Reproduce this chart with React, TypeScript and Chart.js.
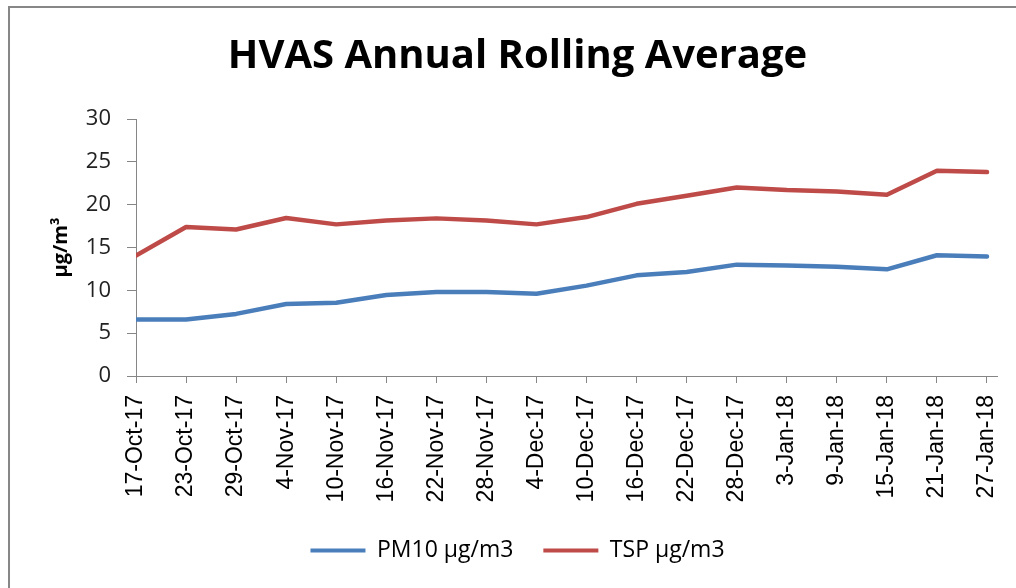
import React, { useEffect, useRef } from "react";
import { Chart, registerables } from "chart.js";

Chart.register(...registerables);

const dateLabels = [
  "17-Oct-17", "23-Oct-17", "29-Oct-17", "4-Nov-17", "10-Nov-17", "16-Nov-17",
  "22-Nov-17", "28-Nov-17", "4-Dec-17", "10-Dec-17", "16-Dec-17", "22-Dec-17",
  "28-Dec-17", "3-Jan-18", "9-Jan-18", "15-Jan-18", "21-Jan-18", "27-Jan-18",
];

const pm10Values = [
  6.6, 6.6, 7.25, 8.4, 8.55, 9.45, 9.8, 9.8, 9.6, 10.55, 11.75, 12.15,
  13.0, 12.9, 12.75, 12.45, 14.1, 13.95,
];

const tspValues = [
  14.05, 17.4, 17.1, 18.45, 17.7, 18.15, 18.4, 18.15, 17.7, 18.55, 20.1, 21.05,
  22.0, 21.7, 21.55, 21.15, 23.95, 23.8,
];

const yTicks = [0, 5, 10, 15, 20, 25, 30];

const borderPlugin = {
  id: "outerBorder",
  beforeDraw(chart: any) {
    const ctx = chart.ctx;
    ctx.save();
    ctx.fillStyle = "#ffffff";
    ctx.fillRect(0, 0, chart.width, chart.height);
    ctx.strokeStyle = "#878787";
    ctx.lineWidth = 2;
    ctx.strokeRect(9, 7, 3000, 3000);
    ctx.restore();
  },
};

export default function App() {
  const ref = useRef<HTMLCanvasElement | null>(null);

  useEffect(() => {
    if (!ref.current) return;
    const chart = new Chart(ref.current, {
      type: "line",
      data: {
        datasets: [
          {
            label: "PM10 µg/m3",
            data: pm10Values.map((v, i) => ({ x: i, y: v })),
            borderColor: "#4A7EBB",
            backgroundColor: "#4A7EBB",
            borderWidth: 4.5,
            pointRadius: 0,
            tension: 0,
            borderJoinStyle: "round",
            borderCapStyle: "round",
          },
          {
            label: "TSP µg/m3",
            data: tspValues.map((v, i) => ({ x: i, y: v })),
            borderColor: "#BE4B48",
            backgroundColor: "#BE4B48",
            borderWidth: 4.5,
            pointRadius: 0,
            tension: 0,
            borderJoinStyle: "round",
            borderCapStyle: "round",
          },
        ],
      },
      options: {
        responsive: false,
        animation: false,
        layout: { padding: { left: 38, right: 19, top: 0, bottom: 16 } },
        plugins: {
          tooltip: { enabled: false },
          title: {
            display: true,
            text: "HVAS Annual Rolling Average",
            color: "#000000",
            font: { family: "Open Sans", size: 40, weight: "bold" },
            padding: { top: 33, bottom: 38 },
          },
          legend: {
            position: "bottom",
            labels: {
              boxWidth: 55,
              boxHeight: 4,
              padding: 30,
              color: "#000000",
              font: { family: "Open Sans", size: 23 },
              generateLabels(chart: any) {
                const items = Chart.defaults.plugins.legend.labels.generateLabels(chart);
                return items.map((it: any) => ({
                  ...it,
                  fillStyle: it.strokeStyle,
                  lineWidth: 0,
                }));
              },
            },
          },
        },
        scales: {
          x: {
            type: "linear",
            min: 0,
            max: 17.2,
            offset: false,
            grid: {
              display: true,
              drawOnChartArea: false,
              drawTicks: true,
              tickLength: 7,
              color: "#868686",
            },
            border: { display: true, color: "#868686", width: 1 },
            ticks: {
              stepSize: 1,
              autoSkip: false,
              includeBounds: false,
              minRotation: 90,
              maxRotation: 90,
              padding: 12,
              color: "#000000",
              font: { family: "Liberation Sans", size: 23 },
              callback: (value: any) => {
                const i = Math.round(Number(value));
                return Number.isInteger(Number(value)) ? dateLabels[i] ?? "" : "";
              },
            },
            afterFit(scale: any) {
              scale.height = 133;
              scale.paddingLeft = 0;
              scale.paddingRight = 0;
            },
          },
          y: {
            min: 0,
            max: 30,
            afterBuildTicks(scale: any) {
              scale.ticks = yTicks.map((v) => ({ value: v }));
            },
            grid: {
              display: true,
              drawOnChartArea: false,
              drawTicks: true,
              tickLength: 9,
              color: "#868686",
            },
            border: { display: true, color: "#868686", width: 1 },
            ticks: {
              padding: 16,
              color: "#222222",
              font: { family: "Open Sans", size: 22 },
            },
            title: {
              display: true,
              text: "µg/m³",
              color: "#000000",
              font: { family: "Open Sans", size: 20, weight: "bold" },
              padding: { top: 11, bottom: 0 },
            },
            afterFit(scale: any) {
              scale.width = 98;
            },
          },
        },
      },
      plugins: [borderPlugin],
    } as any);
    return () => chart.destroy();
  }, []);

  return (
    <div style={{ position: "absolute", left: 0, top: 0, width: 1016, height: 588 }}>
      <canvas ref={ref} width={1016} height={588} style={{ display: "block" }} />
    </div>
  );
}
